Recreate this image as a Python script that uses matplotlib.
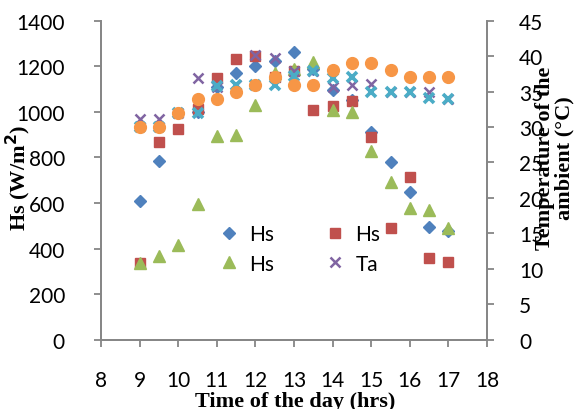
import numpy as np
import matplotlib.pyplot as plt

# time of day (hrs)
hours = [9, 9.5, 10, 10.5, 11, 11.5, 12, 12.5, 13, 13.5, 14, 14.5, 15, 15.5, 16, 16.5, 17]

# solar intensity Hs (W/m2), left axis
hs_1 = [610, 783, 995, 1000, 1110, 1169, 1202, 1222, 1264, 1190, 1097, 1050, 910, 781, 647, 496, 476]
hs_2 = [338, 869, 925, 1012, 1150, 1232, 1246, 1152, 1178, 1009, 1027, 1049, 888, 489, 715, 359, 340]
hs_3 = [338, 369, 417, 596, 895, 898, 1030, 1170, 1190, 1217, 1009, 1001, 830, 691, 578, 569, 489]

# ambient temperature (deg C), right axis
ta_1 = [31.1, 31.1, 32.0, 36.9, 35.7, 36.0, 40.1, 39.7, 37.9, 37.9, 35.7, 35.9, 36.1, 35.0, 35.0, 35.0, 34.0]
ta_2 = [30.0, 30.0, 32.0, 32.0, 35.8, 36.0, 36.0, 36.0, 37.2, 37.9, 36.9, 37.0, 35.0, 35.0, 35.0, 34.1, 34.0]
ta_3 = [30.0, 30.0, 32.0, 34.0, 34.0, 35.0, 36.0, 37.0, 36.0, 36.0, 38.0, 39.0, 39.0, 38.0, 37.0, 37.0, 37.0]

grey = "#868686"
tick_font = "Lato"
lab_font = {"family": "Liberation Serif", "weight": "bold", "size": 16}

fig = plt.figure(figsize=(5.87, 4.10), dpi=100)
ax = fig.add_axes([101/587, 1-340.7/410, 386/587, 319/410])
ax2 = ax.twinx()

ms = 7.5
h1, = ax.plot(hours, hs_1, ls="none", marker="D", ms=ms-1, color="#4F81BD", label="Hs")
h2, = ax.plot(hours, hs_2, ls="none", marker="s", ms=ms, color="#C0504D", label="Hs")
h3, = ax.plot(hours, hs_3, ls="none", marker="^", ms=ms+0.5, color="#9BBB59", label="Hs")
t1, = ax2.plot(hours, ta_1, ls="none", marker="x", ms=ms, mew=1.8, color="#8064A2", label="Ta")
ax2.plot(hours, ta_2, ls="none", marker="x", ms=ms, mew=2.6, color="#4BACC6")
ax2.plot(hours, ta_3, ls="none", marker="o", ms=ms+1, color="#F79646")

ax.set_xlim(8, 18)
ax.set_ylim(0, 1400)
ax2.set_ylim(0, 45)
ax.set_xticks(np.arange(8, 19, 1))
ax.set_yticks(np.arange(0, 1401, 200))
ax2.set_yticks(np.arange(0, 46, 5))

for a in (ax, ax2):
    a.spines["top"].set_visible(False)
    for s in ("left", "right", "bottom"):
        a.spines[s].set_color(grey)
        a.spines[s].set_linewidth(1.3)
    a.tick_params(colors=grey, labelcolor="black", length=5, width=1.3, labelsize=15)
    for lbl in a.get_xticklabels() + a.get_yticklabels():
        lbl.set_family(tick_font)
ax.tick_params(axis="x", pad=17)
ax.tick_params(axis="y", pad=21)
ax2.tick_params(axis="y", pad=18)

ax.set_ylabel("Hs (W/m$^{\\mathbf{2}}$)", fontdict=lab_font)
ax.yaxis.set_label_coords(-0.175, 0.51)
fig.text(0.503, (410-407)/410, "Time of the day (hrs)", ha="center", va="baseline", **lab_font)
fig.text(0.945, 0.615, "Temperature of the\nambient (°C)", ha="center", va="center",
         rotation=90, linespacing=1.0, **lab_font)

# legend fills row by row in the reference
leg = ax.legend(handles=[h1, h3, h2, t1], ncol=2, loc="center",
                bbox_to_anchor=(0.51, 0.39), bbox_transform=fig.transFigure,
                frameon=False, handlelength=1.0, handletextpad=0.5,
                columnspacing=2.4, labelspacing=0.45,
                prop={"family": tick_font, "size": 15})

fig.savefig("out.png", dpi=100)
